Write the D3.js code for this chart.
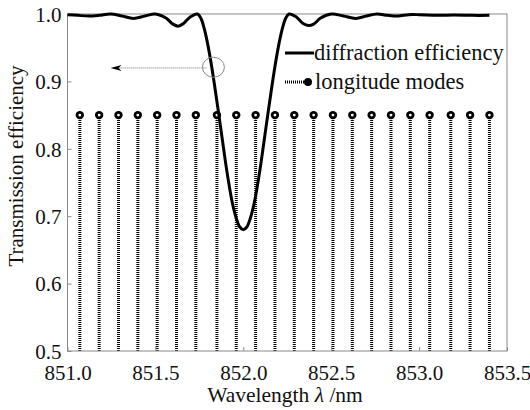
<!DOCTYPE html>
<html>
<head>
<meta charset="utf-8">
<script src="https://cdn.jsdelivr.net/npm/d3@7/dist/d3.min.js"></script>
</head>
<body style="margin:0;padding:0;background:#fff;">
<svg id="chart" width="530" height="410" style="display:block;background:#fff"></svg>
<script>
// ---- data ----
const xTicks = [851.0, 851.5, 852.0, 852.5, 853.0, 853.5];
const yTicks = [0.5, 0.6, 0.7, 0.8, 0.9, 1.0];

// longitudinal mode positions (nm) and stem height
const modeWavelength = [851.07, 851.18, 851.29, 851.40, 851.51, 851.62, 851.73, 851.85,
  851.96, 852.07, 852.18, 852.29, 852.40, 852.51, 852.62, 852.73, 852.84, 852.95,
  853.06, 853.18, 853.29, 853.40];
const modeValue = 0.85;

// diffraction efficiency curve
const effWavelength = [851.00, 851.06, 851.12, 851.18, 851.245, 851.31, 851.375, 851.44, 851.50,
  851.56, 851.60, 851.63, 851.66, 851.70, 851.74, 851.76, 851.78, 851.80, 851.82, 851.84,
  851.86, 851.88, 851.90, 851.92, 851.94, 851.96, 851.98, 852.00, 852.02, 852.04, 852.06,
  852.08, 852.10, 852.12, 852.14, 852.16, 852.18, 852.20, 852.22, 852.24, 852.26, 852.30,
  852.34, 852.37, 852.40, 852.44, 852.50, 852.57, 852.64, 852.70, 852.76, 852.82, 852.88,
  852.94, 853.00, 853.10, 853.20, 853.30, 853.40];
const effValue = [0.999, 0.998, 0.997, 0.998, 1.000, 0.997, 0.9935, 0.997, 1.000,
  0.994, 0.985, 0.982, 0.986, 0.996, 1.000, 0.993, 0.976, 0.952, 0.922, 0.888,
  0.852, 0.815, 0.778, 0.745, 0.717, 0.697, 0.684, 0.680, 0.684, 0.697, 0.717,
  0.745, 0.778, 0.815, 0.852, 0.888, 0.922, 0.952, 0.976, 0.993, 1.000, 0.996,
  0.986, 0.983, 0.985, 0.994, 1.000, 0.997, 0.9935, 0.997, 1.000, 0.998, 0.997,
  0.999, 0.999, 0.998, 0.9985, 0.998, 0.998];

const legendLabels = ["diffraction efficiency", "longitude modes"];
const xLabel = "Wavelength";
const yLabel = "Transmission efficiency";

// annotation (data units)
const circleAt = [851.83, 0.921];
const arrowFrom = 851.79, arrowTo = 851.245, arrowAt = 0.92;

// ---- layout ----
const FONT = '"Liberation Serif"';
const svg = d3.select("#chart");
const L = 67.5, R = 507, T = 14, B = 351;
const x = d3.scaleLinear().domain([851.0, 853.5]).range([L, R]);
const y = d3.scaleLinear().domain([0.5, 1.0]).range([B, T]);
const gray = "#8a8a8a";
const ink = "#111";

// stems
const stems = svg.append("g");
modeWavelength.forEach(w => {
  stems.append("line")
    .attr("x1", x(w)).attr("x2", x(w))
    .attr("y1", y(0.5)).attr("y2", y(modeValue))
    .attr("stroke", "#000").attr("stroke-width", 3)
    .attr("stroke-dasharray", "1,1");
});
modeWavelength.forEach(w => {
  stems.append("circle").attr("cx", x(w)).attr("cy", y(modeValue)).attr("r", 4.2).attr("fill", "#000");
  stems.append("circle").attr("cx", x(w)).attr("cy", y(modeValue)).attr("r", 1.4).attr("fill", "#fff");
});

// frame
svg.append("rect").attr("x", L).attr("y", T).attr("width", R - L).attr("height", B - T)
  .attr("fill", "none").attr("stroke", gray).attr("stroke-width", 1);

// axes (ticks inward)
const xAxis = svg.append("g").attr("transform", `translate(0,${B})`)
  .call(d3.axisBottom(x).tickValues(xTicks).tickFormat(d3.format(".1f")).tickSizeInner(-4).tickSizeOuter(0).tickPadding(16));
const yAxis = svg.append("g").attr("transform", `translate(${L},0)`)
  .call(d3.axisLeft(y).tickValues(yTicks).tickFormat(d3.format(".1f")).tickSizeInner(-4).tickSizeOuter(0).tickPadding(6));
[xAxis, yAxis].forEach(a => {
  a.attr("font-family", null).attr("font-size", null);
  a.select(".domain").remove();
  a.selectAll(".tick line").attr("stroke", gray);
  a.selectAll(".tick text").style("font-family", FONT).style("font-size", "21px").attr("fill", ink);
});
xAxis.selectAll(".tick text").attr("dy", "0.6em");
yAxis.selectAll(".tick text").attr("dy", "0.35em");

// curve
const pts = effWavelength.map((w, i) => [w, effValue[i]]);
svg.append("path").datum(pts)
  .attr("d", d3.line().x(d => x(d[0])).y(d => y(d[1])).curve(d3.curveCatmullRom.alpha(0.5)))
  .attr("fill", "none").attr("stroke", "#000").attr("stroke-width", 3).attr("stroke-linejoin", "round");

// annotation
svg.append("ellipse").attr("cx", x(circleAt[0])).attr("cy", y(circleAt[1]))
  .attr("rx", 11).attr("ry", 10).attr("fill", "none").attr("stroke", gray).attr("stroke-width", 1);
svg.append("line").attr("x1", x(arrowFrom)).attr("x2", x(arrowTo) + 8)
  .attr("y1", y(arrowAt)).attr("y2", y(arrowAt))
  .attr("stroke", "#777").attr("stroke-width", 1).attr("stroke-dasharray", "1,1");
svg.append("path")
  .attr("d", `M${x(arrowTo)},${y(arrowAt)} L${x(arrowTo) + 11},${y(arrowAt) - 3} L${x(arrowTo) + 8},${y(arrowAt)} L${x(arrowTo) + 11},${y(arrowAt) + 3} Z`)
  .attr("fill", "#000");

// legend
const lg = svg.append("g");
lg.append("line").attr("x1", 285).attr("x2", 314).attr("y1", 53).attr("y2", 53)
  .attr("stroke", "#000").attr("stroke-width", 3);
lg.append("text").attr("x", 314).attr("y", 60).style("font-family", FONT).style("font-size", "22.5px")
  .attr("fill", ink).text(legendLabels[0]);
lg.append("line").attr("x1", 285).attr("x2", 308).attr("y1", 82).attr("y2", 82)
  .attr("stroke", "#000").attr("stroke-width", 3).attr("stroke-dasharray", "1,1");
lg.append("circle").attr("cx", 308).attr("cy", 82).attr("r", 4).attr("fill", "#000");
lg.append("text").attr("x", 315).attr("y", 89).style("font-family", FONT).style("font-size", "22.5px")
  .attr("fill", ink).text(legendLabels[1]);

// axis labels
const xl = svg.append("text").attr("x", 285).attr("y", 402).attr("text-anchor", "middle")
  .style("font-family", FONT).style("font-size", "21.5px").attr("fill", ink);
xl.append("tspan").text(xLabel + " ");
xl.append("tspan").style("font-style", "italic").text("λ");
xl.append("tspan").text(" /nm");
svg.append("text").attr("transform", "translate(23,166) rotate(-90)")
  .attr("text-anchor", "middle").style("font-family", FONT).style("font-size", "21px")
  .attr("fill", ink).text(yLabel);
</script>
</body>
</html>
